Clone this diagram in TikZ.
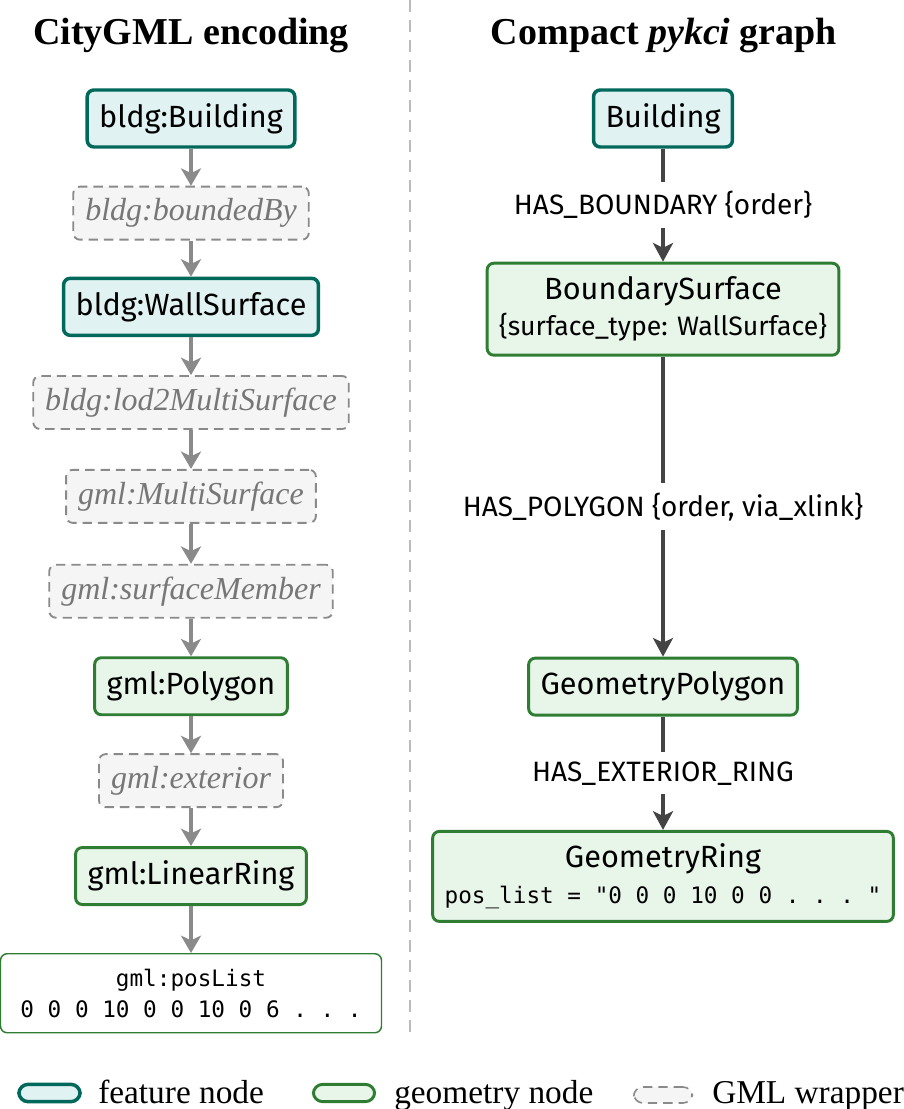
\documentclass[tikz,border=0pt]{standalone}
\usepackage{fontspec}
\setmainfont{Liberation Serif}
\setsansfont{Fira Sans}
\setmonofont{DejaVu Sans Mono}
\usetikzlibrary{positioning, arrows.meta}

\definecolor{featline}{HTML}{00695C}
\definecolor{featfill}{HTML}{E0F2F1}
\definecolor{geomline}{HTML}{2E7D32}
\definecolor{geomfill}{HTML}{E8F5E9}
\definecolor{wrapline}{HTML}{8A8A8A}
\definecolor{wrapfill}{HTML}{F5F5F5}
\definecolor{wraptext}{HTML}{777777}
\definecolor{reldark}{HTML}{444444}
\definecolor{sepgray}{HTML}{BBBBBB}

\tikzset{
  feature/.style={draw=featline, fill=featfill, line width=2.6pt, rounded corners=5pt,
    inner xsep=9pt, minimum height=42.75pt, font=\sffamily\fontsize{23}{28}\selectfont},
  geometry/.style={feature, draw=geomline, fill=geomfill, line width=2.2pt},
  wrapper/.style={draw=wrapline, fill=wrapfill, dash pattern=on 7pt off 4.5pt, line width=1.4pt,
    rounded corners=5pt, inner xsep=9pt, minimum height=39.75pt, text=wraptext,
    font=\itshape\fontsize{24}{28}\selectfont},
  poslist/.style={draw=geomline, fill=white, line width=1.1pt, rounded corners=5pt,
    align=center, minimum width=285.75pt, minimum height=59.25pt,
    font=\ttfamily\fontsize{17}{23}\selectfont},
  flow/.style={draw=wrapline, line width=2.3pt, -{Stealth[length=13pt, width=15pt, inset=3.5pt]}},
  rel/.style={draw=reldark, line width=3pt, -{Stealth[length=14pt, width=15pt, inset=3.5pt]}},
  rellabel/.style={fill=white, inner xsep=2pt, inner ysep=7pt, text=black,
    font=\sffamily\fontsize{21}{25}\selectfont},
  title/.style={anchor=base, font=\bfseries\fontsize{28.5}{32}\selectfont},
  legtext/.style={anchor=base west, inner sep=0pt, font=\fontsize{25}{28}\selectfont},
}

\begin{document}
\begin{tikzpicture}[x=0.75pt, y=-0.75pt]
  \useasboundingbox (0,0) rectangle (903,1109);

  % column titles and separator
  \node[title] (tleft) at (191,45) {CityGML encoding};
  \node[title] (tright) at (664,45) {Compact \textit{pykci} graph};
  \coordinate (septop) at (410,0);
  \coordinate (sepbot) at (410,1035);
  \draw[sepgray, line width=1.2pt, dash pattern=on 9pt off 6pt] (septop) -- (sepbot);

  % left: CityGML nesting
  \node[feature] (bldg) at (191,118.5) {bldg:Building};
  \node[wrapper, below=27.75pt of bldg] (bounded) {bldg:boundedBy};
  \node[feature, below=27pt of bounded] (wall) {bldg:WallSurface};
  \node[wrapper, below=28.5pt of wall] (lod2) {bldg:lod2MultiSurface};
  \node[wrapper, below=29.25pt of lod2] (msurf) {gml:MultiSurface};
  \node[wrapper, below=30pt of msurf] (member) {gml:surfaceMember};
  \node[geometry, below=28.2pt of member] (poly) {gml:Polygon};
  \node[wrapper, below=27.75pt of poly] (ext) {gml:exterior};
  \node[geometry, below=28.5pt of ext] (ring) {gml:LinearRing};
  \node[poslist, below=35.25pt of ring] (pos) {gml:posList\\0 0 0 10 0 0 10 0 6 . . . };

  \foreach \a/\b in {bldg/bounded, bounded/wall, wall/lod2, lod2/msurf, msurf/member,
                     member/poly, poly/ext, ext/ring, ring/pos}
    \draw[flow] (\a) -- (\b);

  % right: compact graph
  \node[feature] (rbldg) at (663,118.5) {Building};
  \node[geometry, align=center, minimum height=69pt, below=84.75pt of rbldg] (bsurf)
    {BoundarySurface\\[-1pt]{\fontsize{20}{23}\selectfont\{surface\_type: WallSurface\}}};
  \node[geometry, below=225pt of bsurf] (gpoly) {GeometryPolygon};
  \node[geometry, align=center, minimum height=67.5pt, below=85pt of gpoly] (gring)
    {GeometryRing\\[-1pt]{\ttfamily\fontsize{17}{23}\selectfont pos\_list = "0 0 0 10 0 0 . . . "}};

  \draw[rel] (rbldg) -- node[rellabel] {HAS\_BOUNDARY \{order\}} (bsurf);
  \draw[rel] (bsurf) -- node[rellabel] {HAS\_POLYGON \{order, via\_xlink\}} (gpoly);
  \draw[rel] (gpoly) -- node[rellabel] {HAS\_EXTERIOR\_RING} (gring);

  % legend
  \node[draw=featline, fill=featfill, line width=2.6pt, rounded corners=7pt,
        minimum width=46pt, minimum height=13pt] (legfeat) at (49.5,1093) {};
  \node[legtext] (legfeattxt) at (98,1103) {feature node};
  \node[draw=geomline, fill=geomfill, line width=2.2pt, rounded corners=7pt,
        minimum width=46pt, minimum height=13pt] (leggeom) at (344,1093) {};
  \node[legtext] (leggeomtxt) at (394,1103) {geometry node};
  \node[draw=wrapline, fill=wrapfill, dash pattern=on 7pt off 4.5pt, line width=1.2pt,
        rounded corners=7pt, minimum width=44pt, minimum height=12pt] (legwrap) at (663,1095) {};
  \node[legtext] (legwraptxt) at (712,1103) {GML wrapper};
\end{tikzpicture}
\end{document}
